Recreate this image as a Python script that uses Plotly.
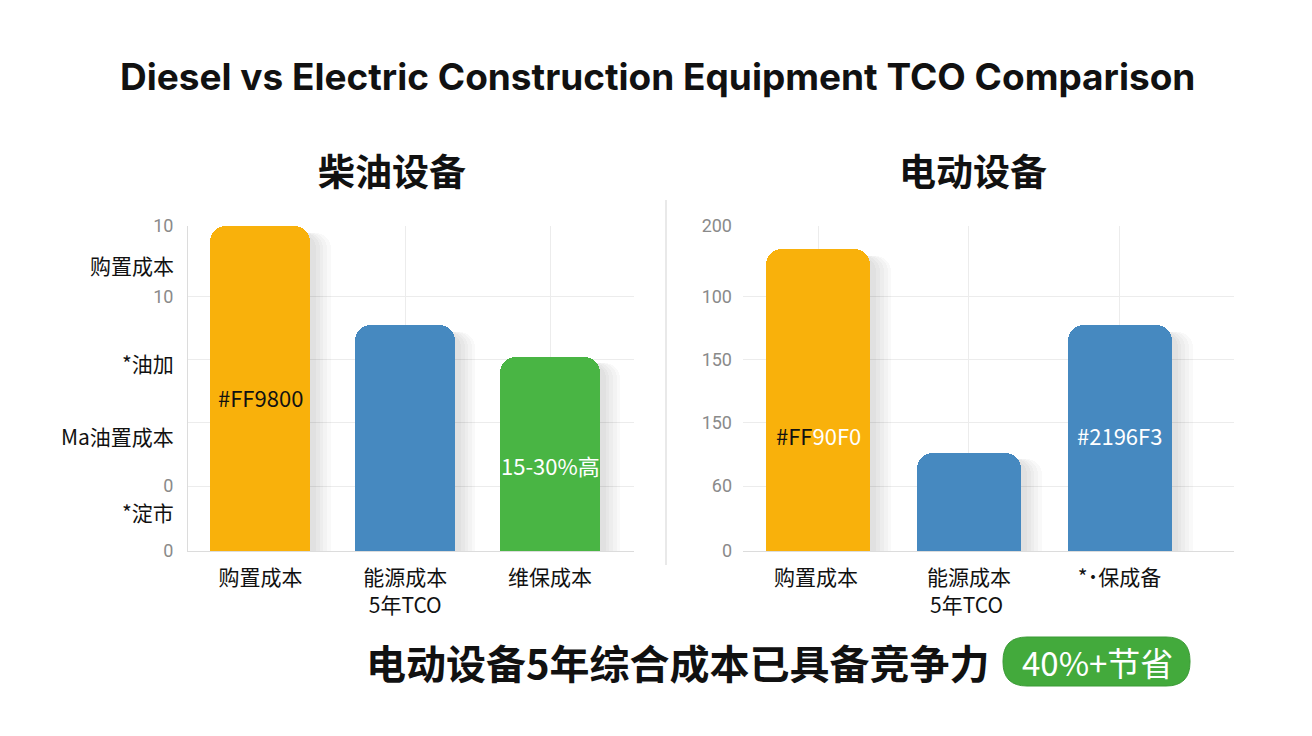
import plotly.graph_objects as go

W, H = 1312, 736

# ---------------- data ----------------
diesel_categories = ["购置成本", "能源成本<br>5年TCO", "维保成本"]
diesel_values = [100, 69.5, 59.7]
diesel_colors = ["#F9B10B", "#4689C0", "#49B544"]

electric_categories = ["购置成本 ", "能源成本<br>5年TCO ", "*˙保成备"]
electric_values = [92.9, 30.2, 69.5]
electric_colors = ["#F9B10B", "#4689C0", "#4689C0"]

tick_vals = [0, 20, 39.4, 58.8, 78.2, 100]
left_tick_text = ["0", "0", "", "", "10", "10"]
right_tick_text = ["0", "60", "150", "150", "100", "200"]

left_side_labels = ["购置成本", "*油加", "Ma油置成本", "*淀市"]
left_side_label_vals = [88, 57.8, 35.4, 12]

diesel_bar_labels = ["#FF9800", "", "15-30%高"]
diesel_bar_label_vals = [47.4, 0, 26.5]
diesel_bar_label_colors = ["#111111", "#FFFFFF", "#FFFFFF"]
electric_bar_labels = ["<span style='color:#111111'>#FF</span><span style='color:#FFFFFF'>90F0</span>", "", "#2196F3"]
electric_bar_label_vals = [35.7, 0, 35.7]

title_text = "Diesel vs Electric Construction Equipment TCO Comparison"
left_title = "柴油设备"
right_title = "电动设备"
bottom_text = "电动设备5年综合成本已具备竞争力"
badge_text = "40%+节省"

FONT = "Roboto, 'Noto Sans CJK SC', sans-serif"
CJK = "'Noto Sans CJK SC', Roboto, sans-serif"
BAR_W = 0.69
RADIUS = 16

def px(x):
    return x / W

def py(y):
    return 1 - y / H

fig = go.Figure()

# soft shadows
for cats, vals, xa, ya in [(diesel_categories, diesel_values, "x", "y"),
                           (electric_categories, electric_values, "x2", "y2")]:
    for dx in [0.14, 0.115, 0.09, 0.065, 0.04]:
        fig.add_trace(go.Bar(
            x=cats, y=[v - 2.0 for v in vals], xaxis=xa, yaxis=ya,
            width=BAR_W, offset=-BAR_W / 2 + dx,
            marker=dict(color="rgba(0,0,0,0.025)", cornerradius=RADIUS, line=dict(width=0)),
            hoverinfo="skip", showlegend=False))

fig.add_trace(go.Bar(
    x=diesel_categories, y=diesel_values, xaxis="x", yaxis="y",
    width=BAR_W, offset=-BAR_W / 2,
    marker=dict(color=diesel_colors, cornerradius=RADIUS, line=dict(width=0)),
    showlegend=False))
fig.add_trace(go.Bar(
    x=electric_categories, y=electric_values, xaxis="x2", yaxis="y2",
    width=BAR_W, offset=-BAR_W / 2,
    marker=dict(color=electric_colors, cornerradius=RADIUS, line=dict(width=0)),
    showlegend=False))

axis_common = dict(type="category", showgrid=True, gridcolor="#ECECEC", gridwidth=1,
                   showline=True, linecolor="#DCDCDC", linewidth=1, ticks="",
                   tickfont=dict(family=CJK, size=21, color="#111111"),
                   ticklabelstandoff=8, fixedrange=True, automargin=False)
yaxis_common = dict(range=[0, 100], tickmode="array", tickvals=tick_vals,
                    showgrid=True, gridcolor="#ECECEC", gridwidth=1, zeroline=False,
                    ticks="", tickfont=dict(family=FONT, size=18, color="#8A8A8A"),
                    ticklabelstandoff=10, fixedrange=True, automargin=False,
                    domain=[py(551), py(226)])

def ann(text, x, y, size, color="#111111", family=CJK, xref="paper", yref="paper", xanchor="center"):
    return dict(text=text, xref=xref, yref=yref, x=x, y=y, xanchor=xanchor, yanchor="middle",
                showarrow=False, font=dict(family=family, size=size, color=color))

annotations = []
for t, v in zip(left_side_labels, left_side_label_vals):
    annotations.append(ann(t, px(176), v, 21, yref="y", xanchor="right"))
for c, t, v, col in zip(diesel_categories, diesel_bar_labels, diesel_bar_label_vals, diesel_bar_label_colors):
    if t:
        annotations.append(ann(t, c, v, 22, color=col, xref="x", yref="y"))
for c, t, v in zip(electric_categories, electric_bar_labels, electric_bar_label_vals):
    if t:
        annotations.append(ann(t, c, v, 22, color="#FFFFFF", xref="x2", yref="y2"))

annotations += [
    ann(f"<b>{title_text}</b>", px(658), py(76), 37, family="Inter, Roboto, sans-serif"),
    ann(f"<b>{left_title}</b>", px(392), py(170), 37),
    ann(f"<b>{right_title}</b>", px(973), py(170), 37),
    ann(f"<b>{bottom_text}</b>", px(678), py(662), 40),
    ann(badge_text, px(1097), py(662), 33, color="#FFFFFF"),
]

# badge pill path
x0, x1, y0, y1, r = 1003, 1190, 637, 686, 24
pts = (f"M {px(x0 + r)},{py(y0)} L {px(x1 - r)},{py(y0)} "
       f"Q {px(x1)},{py(y0)} {px(x1)},{py(y0 + r)} L {px(x1)},{py(y1 - r)} "
       f"Q {px(x1)},{py(y1)} {px(x1 - r)},{py(y1)} L {px(x0 + r)},{py(y1)} "
       f"Q {px(x0)},{py(y1)} {px(x0)},{py(y1 - r)} L {px(x0)},{py(y0 + r)} "
       f"Q {px(x0)},{py(y0)} {px(x0 + r)},{py(y0)} Z")

shapes = [
    dict(type="line", xref="paper", yref="paper", x0=px(666), x1=px(666), y0=py(565), y1=py(200),
         line=dict(color="#E2E2E2", width=1.5)),
    dict(type="path", xref="paper", yref="paper", path=pts,
         fillcolor="#43AA3C", line=dict(color="#3A9A35", width=1)),
]

fig.update_layout(
    width=W, height=H, margin=dict(l=0, r=0, t=0, b=0, pad=0, autoexpand=False),
    paper_bgcolor="#FFFFFF", plot_bgcolor="rgba(0,0,0,0)",
    barmode="overlay", bargap=0, showlegend=False,
    xaxis=dict(**axis_common, domain=[px(188), px(634)], range=[-0.5, 2.58], anchor="y"),
    yaxis=dict(**yaxis_common, ticktext=left_tick_text, showline=True, linecolor="#DCDCDC", anchor="x"),
    xaxis2=dict(**axis_common, domain=[px(743), px(1234)], range=[-0.5, 2.76], anchor="y2"),
    yaxis2=dict(**yaxis_common, ticktext=right_tick_text, showline=False, anchor="x2"),
    annotations=annotations, shapes=shapes,
)

fig.write_html("out.html", config={"displayModeBar": False})
